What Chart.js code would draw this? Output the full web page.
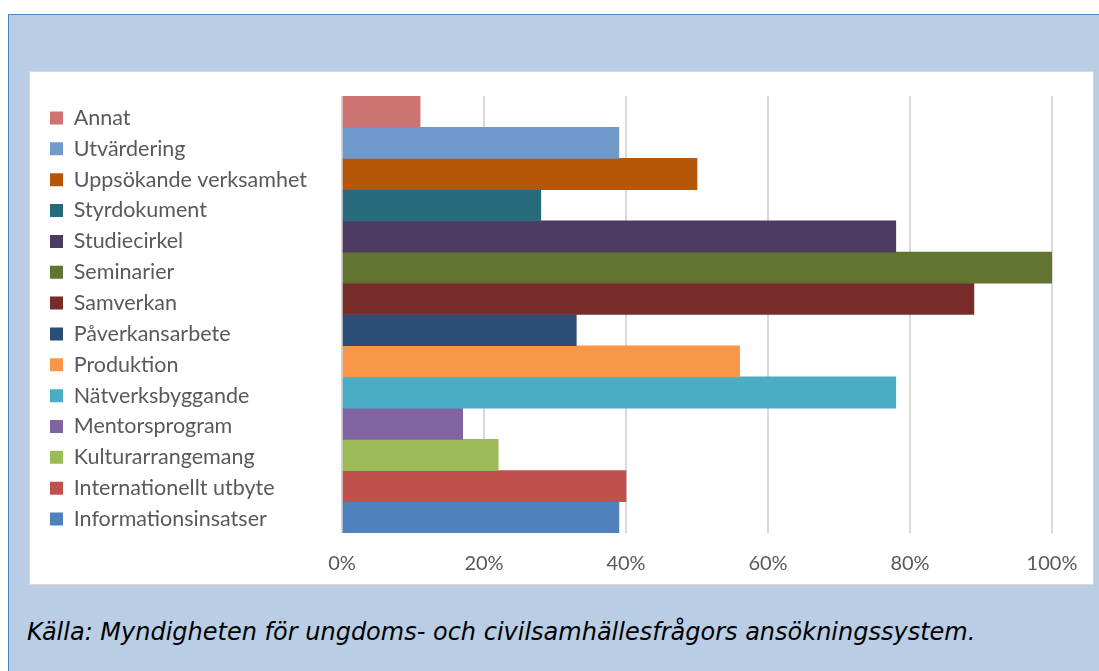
<!DOCTYPE html>
<html><head><meta charset="utf-8">
<script src="https://cdn.jsdelivr.net/npm/chart.js@4.4.1/dist/chart.umd.min.js"></script>
<style>
html,body{margin:0;padding:0;background:#fff;width:1099px;height:671px;overflow:hidden;}
#panel{position:absolute;left:8px;top:14px;width:1091px;height:657px;background:#b9cde5;border-left:1px solid #4f81bd;border-top:1px solid #4f81bd;box-sizing:border-box;}
#box{position:absolute;left:29px;top:71px;width:1065px;height:514px;background:#fff;border:1px solid #d9d9d9;box-sizing:border-box;}
#wrap{position:absolute;left:29px;top:71px;width:1064px;height:514px;}
#caption{position:absolute;left:27px;top:618px;font:italic 24px "DejaVu Sans";color:#000;white-space:nowrap;}
</style></head>
<body>
<div id="panel"></div>
<div id="box"></div>
<div id="wrap"><canvas id="c" width="1064" height="514"></canvas></div>
<div id="caption">Källa: Myndigheten för ungdoms- och civilsamhällesfrågors ansökningssystem.</div>
<script>
const categories = [''];
const seriesNames = ['Annat','Utvärdering','Uppsökande verksamhet','Styrdokument','Studiecirkel','Seminarier','Samverkan','Påverkansarbete','Produktion','Nätverksbyggande','Mentorsprogram','Kulturarrangemang','Internationellt utbyte','Informationsinsatser'];
const seriesValues = [11, 39, 50, 28, 78, 100, 89, 33, 56, 78, 17, 22, 40, 39];
const seriesColors = ['#cd7371','#7099cc','#b65708','#276a7c','#4d3b62','#617431','#772c2a','#2c4d75','#f79646','#4bacc6','#8064a2','#9bbb59','#c0504d','#4f81bd'];
const xTicks = [0, 20, 40, 60, 80, 100];

const FONT_SIZE = 21.5;
const LEGEND_PAD = 30.85 - FONT_SIZE;
const PAD_LEFT = 21 - LEGEND_PAD;
const PLOT_LEFT = 313;

const datasets = seriesNames.map((n, i) => ({
  label: n,
  data: [seriesValues[i]],
  backgroundColor: seriesColors[i],
  borderWidth: 0,
  barPercentage: 1,
  categoryPercentage: 1
}));

new Chart(document.getElementById('c'), {
  type: 'bar',
  data: { labels: categories, datasets },
  options: {
    indexAxis: 'y',
    responsive: false,
    animation: false,
    devicePixelRatio: 1,
    layout: { padding: { left: PAD_LEFT, top: 25, right: 41, bottom: 0 } },
    plugins: {
      tooltip: { enabled: false },
      legend: {
        position: 'left',
        align: 'start',
        fullSize: true,
        maxWidth: 300,
        title: { display: true, text: ' ', font: { size: 1, lineHeight: 1.9 }, padding: 0 },
        labels: {
          boxWidth: 13, boxHeight: 13,
          padding: LEGEND_PAD,
          color: '#595959',
          font: { family: 'Lato', size: FONT_SIZE }
        }
      }
    },
    scales: {
      x: {
        min: 0, max: 100,
        afterBuildTicks: (s) => { s.ticks = xTicks.map(v => ({ value: v })); },
        afterFit: (s) => { s.height = 52; s.paddingLeft = 0; s.paddingRight = 0; },
        grid: { color: '#d9d9d9', lineWidth: 2, drawTicks: false },
        border: { display: false },
        ticks: {
          padding: 19,
          color: '#595959',
          font: { family: 'Lato', size: 20 },
          callback: (v) => v + '%'
        }
      },
      y: {
        display: true,
        grid: { display: false },
        border: { display: false },
        ticks: { display: false },
        afterFit: (s) => {
          const lw = (s.chart.legend && s.chart.legend.width) || 0;
          s.width = PLOT_LEFT - PAD_LEFT - lw;
        }
      }
    }
  }
});
</script>
</body></html>
